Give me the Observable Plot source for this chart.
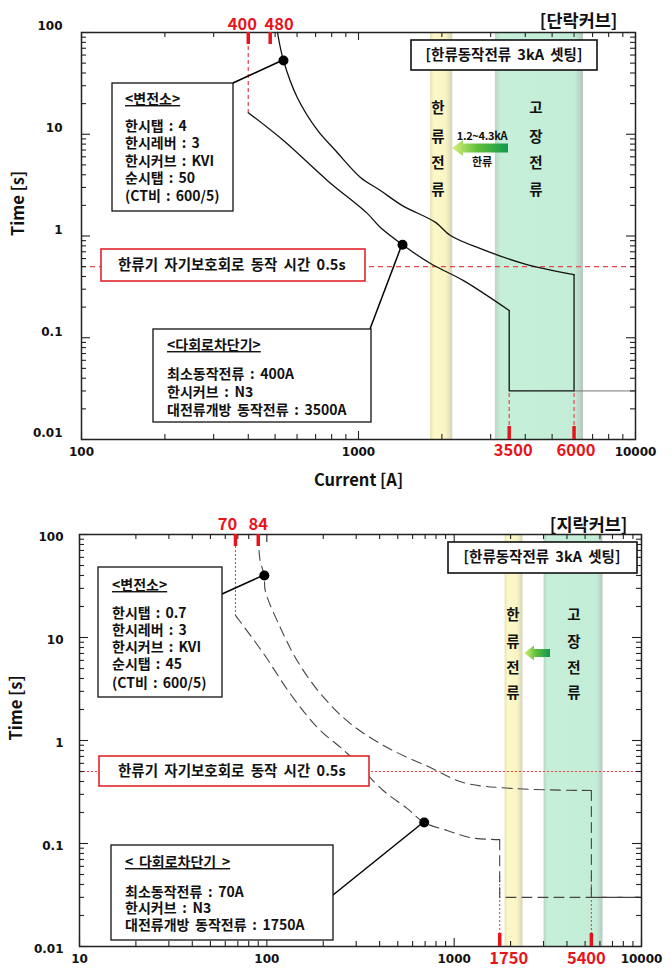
<!DOCTYPE html>
<html><head><meta charset="utf-8">
<script src="https://cdn.jsdelivr.net/npm/d3@7"></script>
<script src="https://cdn.jsdelivr.net/npm/@observablehq/plot@0.6"></script>
<style>
body{margin:0;background:#fff;}
#chart svg{display:block;}
</style></head>
<body>
<svg width="0" height="0" style="position:absolute">
<defs>
<linearGradient id="gY" x1="0" x2="1" y1="0" y2="0">
<stop offset="0" stop-color="#e6e2b2"/><stop offset="0.18" stop-color="#fcf8c8"/><stop offset="0.7" stop-color="#faf5c3"/><stop offset="1" stop-color="#d5d3bd"/>
</linearGradient>
<linearGradient id="gG" x1="0" x2="1" y1="0" y2="0">
<stop offset="0" stop-color="#b9d6c5"/><stop offset="0.07" stop-color="#c6efd9"/><stop offset="0.9" stop-color="#c4edd7"/><stop offset="1" stop-color="#b6c8be"/>
</linearGradient>
<linearGradient id="gA" x1="0" x2="1" y1="0" y2="0">
<stop offset="0" stop-color="#d8f27c"/><stop offset="0.45" stop-color="#62c03c"/><stop offset="1" stop-color="#10984c"/>
</linearGradient>
</defs></svg>
<div id="chart"></div>
<script>
const FONT = "'Noto Sans CJK KR','Noto Sans',sans-serif";
const NUMFONT = "'DejaVu Sans',sans-serif";
const RED = "#e8141c";
const W = 671;

// ===== shared =====
const yTicks = [0.01, 0.1, 1, 10, 100];
const selfProtectTime = 0.5;
const settingNote = "[한류동작전류 3kA 셋팅]";
const selfProtectNote = "한류기 자기보호회로 동작 시간 0.5s";
const limitChars = ["한", "류", "전", "류"];
const faultChars = ["고", "장", "전", "류"];
const arrowNote = ["1.2~4.3kA", "한류"];

// ===== Panel 1 : 단락커브 =====
const p1Title = "[단락커브]";
const p1SubCurrent = [510, 536, 601, 712, 826, 1017, 1200, 1440, 1897, 2148, 2756, 3943, 6000, 6000];
const p1SubTime    = [100, 53, 23, 10.9, 6.92, 3.76, 2.8, 1.99, 1.36, 1.01, 0.75, 0.536, 0.417, 0.03];
const p1RecCurrent = [400, 536, 773, 1078, 1200, 1442, 1820, 2394, 3500, 3500, 6000];
const p1RecTime    = [16.3, 8.67, 3.5, 1.66, 1.21, 0.82, 0.536, 0.364, 0.185, 0.03, 0.03];
const p1TailCurrent = [6000, 10000];
const p1TailTime    = [0.03, 0.03];
const p1DotCurrent = [536, 1442];
const p1DotTime    = [53, 0.82];
const p1LimitBand = [1820, 2190];
const p1FaultBand = [3120, 6490];
const p1TopMarks = [400, 480];
const p1TopMarkLabels = ["400", "480"];
const p1BottomMarks = [3500, 6000];
const p1BottomMarkLabels = ["3500", "6000"];
const p1BottomMarkFrom = 0.03;
const p1XTicks = [100, 1000, 10000];
const p1SubNote = ["<변전소>", "한시탭 : 4", "한시레버 : 3", "한시커브 : KVI", "순시탭 : 50", "(CT비 : 600/5)"];
const p1RecNote = ["<다회로차단기>", "최소동작전류 : 400A", "한시커브 : N3", "대전류개방 동작전류 : 3500A"];

// ===== Panel 2 : 지락커브 =====
const p2Title = "[지락커브]";
const p2SubCurrent = [90, 92, 97, 98, 118, 145, 193, 279, 439, 745, 1117, 2064, 5400, 5400, 10000];
const p2SubTime    = [100, 56, 40, 28.6, 12.5, 5.98, 2.86, 1.46, 0.855, 0.547, 0.391, 0.342, 0.327, 0.03, 0.03];
const p2RecCurrent = [68, 96, 133, 186, 269, 418, 561, 692, 918, 1217, 1750, 1750, 10000];
const p2RecTime    = [16.4, 7.0, 2.86, 1.34, 0.748, 0.327, 0.219, 0.16, 0.134, 0.114, 0.109, 0.03, 0.03];
const p2DotCurrent = [97, 692];
const p2DotTime    = [40, 0.16];
const p2LimitBand = [1870, 2330];
const p2FaultBand = [3020, 6230];
const p2TopMarks = [68, 90];
const p2TopMarkLabels = ["70", "84"];
const p2BottomMarks = [1750, 5400];
const p2BottomMarkLabels = ["1750", "5400"];
const p2BottomMarkFrom = 0.047;
const p2XTicks = [10, 100, 1000, 10000];
const p2SubNote = ["<변전소>", "한시탭 : 0.7", "한시레버 : 3", "한시커브 : KVI", "순시탭 : 45", "(CT비 : 600/5)"];
const p2RecNote = ["< 다회로차단기 >", "최소동작전류 : 70A", "한시커브 : N3", "대전류개방 동작전류 : 1750A"];

function logTicks([lo, hi]) {
  const maj = [], min = [];
  for (let e = Math.round(Math.log10(lo)); e <= Math.round(Math.log10(hi)); e++) {
    const d = Math.pow(10, e);
    maj.push(d);
    if (d < hi * 0.99) for (let k = 2; k < 10; k++) min.push(+(k * d).toPrecision(6));
  }
  return {maj, min};
}
const pts = (xs, ys) => xs.map((x, i) => ({x, y: ys[i]}));
// split a curve into its smooth inverse-time part and its step (instantaneous) part
function curveMarks(xs, ys, style) {
  const p = pts(xs, ys);
  let k = p.findIndex((d, i) => i < p.length - 1 && p[i + 1].x === d.x);
  if (k < 0) k = p.length - 1;
  const out = [Plot.line(p.slice(0, k + 1), {x: "x", y: "y", curve: "catmull-rom", ...style})];
  if (k < p.length - 1) out.push(Plot.line(p.slice(k), {x: "x", y: "y", ...style}));
  return out;
}

function panel(c) {
  const fw = W - c.ml - c.mr, fh = c.h - c.mt - c.mb;
  const xt = logTicks(c.xDomain), yt = logTicks([0.01, 100]);
  const tk = {stroke: "#222", strokeWidth: 1.1};
  const lbl = {fontWeight: "bold", fontSize: 12, fill: "#111", fontFamily: NUMFONT};
  const redLbl = {fill: RED, fontWeight: "bold", fontSize: 16.5};
  const marks = [
    Plot.rect([c.limitBand], {x1: d => d[0], x2: d => d[1], fill: "url(#gY)"}),
    Plot.rect([c.faultBand], {x1: d => d[0], x2: d => d[1], fill: "url(#gG)"}),
    Plot.ruleY([selfProtectTime], c.refStyle),
    Plot.ruleX([c.topMarks[0]], {y1: 100, y2: c.recT[0], ...c.markLineStyle}),
    Plot.ruleX(c.bottomMarks, {y1: 0.01, y2: c.bottomMarkFrom, ...c.markLineStyle}),
    ...curveMarks(c.subI, c.subT, c.curveStyle),
    ...curveMarks(c.recI, c.recT, c.curveStyle),
    ...(c.tailI ? [Plot.line(pts(c.tailI, c.tailT), {x: "x", y: "y", stroke: "#777", strokeWidth: 1})] : []),
    Plot.dot(pts(c.dotI, c.dotT), {x: "x", y: "y", r: 5, fill: "#000"}),
    Plot.ruleX(xt.maj, {insetTop: fh - 8, ...tk}),
    Plot.ruleX(xt.maj, {insetBottom: fh - 8, ...tk}),
    Plot.ruleX(xt.min, {insetTop: fh - 5, ...tk}),
    Plot.ruleX(xt.min, {insetBottom: fh - 5, ...tk}),
    Plot.ruleY(yt.maj, {insetRight: fw - 9, ...tk}),
    Plot.ruleY(yt.maj, {insetLeft: fw - 9, ...tk}),
    Plot.ruleY(yt.min, {insetRight: fw - 5, ...tk}),
    Plot.ruleY(yt.min, {insetLeft: fw - 5, ...tk}),
    Plot.frame({stroke: "#222", strokeWidth: 1.5}),
    Plot.ruleX(c.topMarks, {stroke: RED, strokeWidth: 3.5, insetBottom: fh - 12}),
    Plot.ruleX(c.bottomMarks, {stroke: RED, strokeWidth: 3.5, insetTop: fh - 13}),
    Plot.text(c.xTicks, {x: d => d, frameAnchor: "bottom", dy: 16, text: d => String(d), ...lbl}),
    Plot.text(yTicks, {y: d => d, frameAnchor: "left", dx: c.yLabelDx, dy: c.yLabelDy, textAnchor: "end", text: d => String(d), ...lbl}),
    ...c.topMarks.map((v, i) => Plot.text([v], {x: d => d, frameAnchor: "top", dy: c.topMarkDy, dx: c.topMarkDx[i], text: () => c.topMarkLabels[i], ...redLbl})),
    ...c.bottomMarks.map((v, i) => Plot.text([v], {x: d => d, frameAnchor: "bottom", dy: c.bottomMarkDy, dx: c.bottomMarkDx[i], text: () => c.bottomMarkLabels[i], ...redLbl})),
    Plot.text([c.title], {frameAnchor: "top-right", dx: c.titleDx, dy: c.titleDy, textAnchor: "end", text: d => d, fontWeight: "bold", fontSize: 17.5, fill: "#111"}),
    Plot.text(["Time [s]"], {frameAnchor: "left", dx: -63, rotate: -90, text: d => d, fontWeight: "bold", fontSize: 16.5, fill: "#111"}),
    ...(c.xLabel ? [Plot.text([c.xLabel], {frameAnchor: "bottom", dy: 46, text: d => d, fontWeight: "bold", fontSize: 16.5, fill: "#111"})] : [])
  ];
  return Plot.plot({
    width: W, height: c.h,
    marginTop: c.mt, marginRight: c.mr, marginBottom: c.mb, marginLeft: c.ml,
    x: {type: "log", domain: c.xDomain, axis: null},
    y: {type: "log", domain: [0.01, 100], axis: null},
    style: {fontFamily: FONT, fontSize: "13px", background: "#fff"},
    marks
  });
}

function annotate(svg, chart, a) {
  const X = chart.scale("x").apply, Y = chart.scale("y").apply;
  const g = d3.select(svg).append("g").attr("font-family", FONT).attr("font-weight", "bold").attr("fill", "#111");
  const line = (p, q) => g.append("line").attr("x1", p[0]).attr("y1", p[1]).attr("x2", q[0]).attr("y2", q[1]).attr("stroke", "#000").attr("stroke-width", 1.5);
  const box = (b, stroke = "#111", sw = 1.3) => g.append("rect").attr("x", b[0]).attr("y", b[1]).attr("width", b[2]).attr("height", b[3]).attr("fill", "#fff").attr("stroke", stroke).attr("stroke-width", sw);
  const text = (s, x, y, size = 13, anchor = "start", underline = false, ws = 0) => {
    const t = g.append("text").attr("x", x).attr("y", y).attr("dy", "0.36em").attr("font-size", size).attr("text-anchor", anchor).text(s);
    if (underline) t.attr("text-decoration", "underline");
    if (ws) t.attr("word-spacing", ws);
    return t;
  };
  line(a.subLeader, [X(a.dots[0][0]), Y(a.dots[0][1])]);
  line(a.recLeader, [X(a.dots[1][0]), Y(a.dots[1][1])]);
  box(a.subBox); a.subNote.forEach((s, i) => text(s, a.subText.x, a.subText.ys[i], 14, "start", i === 0, 2));
  box(a.recBox); a.recNote.forEach((s, i) => text(s, a.recText.x, a.recText.ys[i], 14, "start", i === 0, 2.5));
  box(a.redBox, "#e0262c", 1.6); text(selfProtectNote, a.redText[0], a.redText[1], 14.5, "start", false, 3);
  box(a.setBox, "#111", 1.6); text(settingNote, a.setText[0], a.setText[1], 14.5, "middle", false, 3);
  limitChars.forEach((s, i) => text(s, a.limitX, a.charYs[i], 14.5, "middle"));
  faultChars.forEach((s, i) => text(s, a.faultX, a.charYs[i], 14.5, "middle"));
  const r = a.arrow;
  const path = `M${r.tip},${r.y} L${r.tip + r.hl},${r.y - r.hh / 2} L${r.tip + r.hl},${r.y - r.sh / 2} L${r.tail},${r.y - r.sh / 2} L${r.tail},${r.y + r.sh / 2} L${r.tip + r.hl},${r.y + r.sh / 2} L${r.tip + r.hl},${r.y + r.hh / 2} Z`;
  g.append("path").attr("d", path).attr("fill", "url(#gA)");
  if (a.arrowText) {
    text(arrowNote[0], a.arrowText.x, a.arrowText.ys[0], 11, "middle").attr("letter-spacing", "-0.3");
    text(arrowNote[1], a.arrowText.x, a.arrowText.ys[1], 11, "middle");
  }
}

const chart1 = panel({
  h: 495, mt: 32, mr: 36, mb: 56, ml: 81, xDomain: [100, 10000],
  subI: p1SubCurrent, subT: p1SubTime, recI: p1RecCurrent, recT: p1RecTime,
  tailI: p1TailCurrent, tailT: p1TailTime, dotI: p1DotCurrent, dotT: p1DotTime,
  limitBand: p1LimitBand, faultBand: p1FaultBand,
  topMarks: p1TopMarks, topMarkLabels: p1TopMarkLabels, topMarkDx: [-6, 9], topMarkDy: -14,
  bottomMarks: p1BottomMarks, bottomMarkLabels: p1BottomMarkLabels, bottomMarkDx: [4, 2], bottomMarkDy: 16,
  bottomMarkFrom: p1BottomMarkFrom, xTicks: p1XTicks, yLabelDx: -19, yLabelDy: -6,
  title: p1Title, titleDx: -18, titleDy: -18, xLabel: "Current [A]",
  curveStyle: {stroke: "#111", strokeWidth: 1.3},
  refStyle: {stroke: "#e4464a", strokeWidth: 1.3, strokeDasharray: "5,4"},
  markLineStyle: {stroke: "#ea5a5e", strokeWidth: 1.4, strokeDasharray: "4,3"}
});
const chart2 = panel({
  h: 477, mt: 39, mr: 30, mb: 26, ml: 79, xDomain: [10, 10000],
  subI: p2SubCurrent, subT: p2SubTime, recI: p2RecCurrent, recT: p2RecTime,
  dotI: p2DotCurrent, dotT: p2DotTime,
  limitBand: p2LimitBand, faultBand: p2FaultBand,
  topMarks: p2TopMarks, topMarkLabels: p2TopMarkLabels, topMarkDx: [-8, 0], topMarkDy: -16,
  bottomMarks: p2BottomMarks, bottomMarkLabels: p2BottomMarkLabels, bottomMarkDx: [9, -5], bottomMarkDy: 17,
  bottomMarkFrom: p2BottomMarkFrom, xTicks: p2XTicks, yLabelDx: -16, yLabelDy: 3,
  title: p2Title, titleDx: -14, titleDy: -16,
  curveStyle: {stroke: "#444", strokeWidth: 1.1, strokeDasharray: "10,6"},
  refStyle: {stroke: "#ff3b3b", strokeWidth: 1.1, strokeDasharray: "2,2"},
  markLineStyle: {stroke: "#ff3b3b", strokeWidth: 1.1, strokeDasharray: "2,2"}
});

const root = document.getElementById("chart");
root.appendChild(chart1);
root.appendChild(chart2);

annotate(chart1, chart1, {
  dots: pts(p1DotCurrent, p1DotTime).map(d => [d.x, d.y]),
  subBox: [112, 83, 121, 128], subNote: p1SubNote, subText: {x: 125, ys: [99, 126, 143, 161, 178, 196]}, subLeader: [233, 83],
  recBox: [153, 329, 218, 93], recNote: p1RecNote, recText: {x: 167, ys: [345, 374, 392, 410]}, recLeader: [370, 329],
  redBox: [101, 249, 264, 32], redText: [118, 265],
  setBox: [411, 40, 186, 30], setText: [504, 55],
  limitX: 438, faultX: 536, charYs: [108, 137, 163, 190],
  arrow: {tip: 452, tail: 508, y: 148, hl: 11, hh: 16, sh: 9}, arrowText: {x: 482, ys: [136, 162]}
});
annotate(chart2, chart2, {
  dots: pts(p2DotCurrent, p2DotTime).map(d => [d.x, d.y]),
  subBox: [98, 72, 124, 130], subNote: p2SubNote, subText: {x: 112, ys: [90, 118, 135, 152, 169, 188]}, subLeader: [222, 99],
  recBox: [111, 350, 222, 95], recNote: p2RecNote, recText: {x: 125, ys: [367, 397, 413, 430]}, recLeader: [333, 400],
  redBox: [99, 261, 270, 30], redText: [118, 276],
  setBox: [448, 47, 189, 31], setText: [542, 62],
  limitX: 513, faultX: 574, charYs: [120, 147, 173, 198],
  arrow: {tip: 524, tail: 550, y: 158, hl: 10, hh: 15, sh: 8}
});
</script>
</body></html>
